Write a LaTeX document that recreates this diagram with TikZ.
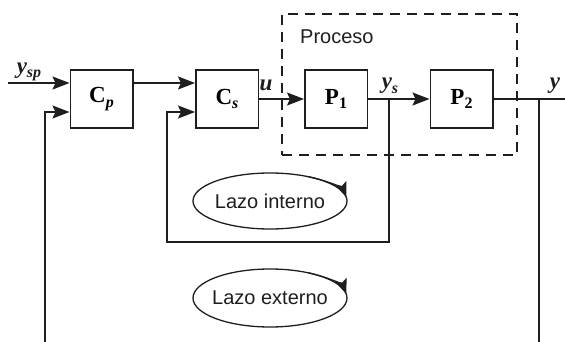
\documentclass[tikz,border=0pt]{standalone}
\usepackage{fontspec}
\setmainfont{Liberation Sans}
\newfontfamily\serifbf{Liberation Serif}
\usetikzlibrary{arrows.meta}
\newcommand\blkfont{\serifbf\bfseries\fontsize{23}{25}\selectfont}
\newcommand\sigfont{\serifbf\bfseries\itshape\fontsize{23}{25}\selectfont}
\newcommand\lazofont{\fontsize{20}{22}\selectfont}
\newcommand\mysub[1]{\raisebox{-0.4ex}{\fontsize{16}{17}\selectfont #1}}
\definecolor{ink}{HTML}{1E1E1E}
\tikzset{
  blk/.style={draw=ink, line width=1.5pt, minimum width=62.5pt, minimum height=58pt, inner sep=0pt, font=\blkfont},
  sig/.style={draw=ink, line width=1.5pt, -{Stealth[length=17pt,width=13pt,inset=3pt]}},
  wire/.style={draw=ink, line width=1.5pt},
  lbl/.style={font=\sigfont, inner sep=0pt, text=ink},
  procbox/.style={draw=ink, line width=1.3pt, dash pattern=on 10pt off 7pt, inner sep=0pt},
  loopell/.style={draw=ink, line width=1.3pt},
  looparr/.style={draw=ink, line width=1.3pt, -{Stealth[length=15pt,width=12pt,inset=3pt]}},
  lazo/.style={font=\lazofont, text=ink, inner sep=0pt}
}
\begin{document}
\begin{tikzpicture}[x=1pt, y=-1pt]
\useasboundingbox (0,0) rectangle (565,342);
% process box
\node[procbox, minimum width=235pt, minimum height=141pt] (proc) at (399.5,84.5) {};
\node[lazo, anchor=west] (proctxt) at (300,37) {Proceso};
% blocks
\node[blk] (cp) at (101.5,99) {C\mysub{\itshape p}};
\node[blk] (cs) at (227,99) {C\mysub{\itshape s}};
\node[blk] (p1) at (336,99) {P\mysub{1}};
\node[blk] (p2) at (461.5,99) {P\mysub{2}};
% coordinates
\coordinate (in) at (8,83);
\coordinate (obot) at (45,342);
\coordinate (ob) at (45,112);
\coordinate (ysb) at (389,99);
\coordinate (ib) at (389,242);
\coordinate (ic) at (167,112);
\coordinate (out) at (565,99);
\coordinate (yb) at (539,99);
\coordinate (ybot) at (539,342);
% signals
\draw[sig] (in) -- (in -| cp.west);
\draw[sig] (cp.east |- in) -- (cs.west |- in);
\draw[sig] (obot) -- (ob) -- (ob -| cp.west);
\draw[sig] (ysb) -- (ib) -| (ic) -- (ic -| cs.west);
\draw[sig] (cs.east) -- (p1.west);
\draw[sig] (p1.east) -- (p2.west);
\draw[wire] (p2.east) -- (out);
\draw[wire] (yb) -- (ybot);
% labels
\node[lbl] (ysp) at (29,72) {y\mysub{sp}};
\node[lbl] (u) at (266,85) {u};
\node[lbl] (ys) at (390,86) {y\mysub{s}};
\node[lbl] (y) at (555,86) {y};
% loops
\node[lazo] (li) at (270,201) {Lazo interno};
\draw[loopell] (li.center) ellipse [x radius=77, y radius=28];
\draw[looparr] ([shift={(-60:77 and 28)}]li.center) arc[start angle=-60, end angle=-8, x radius=77, y radius=28];
\node[lazo] (le) at (270,298) {Lazo externo};
\draw[loopell] (le.center) ellipse [x radius=77, y radius=29];
\draw[looparr] ([shift={(-60:77 and 29)}]le.center) arc[start angle=-60, end angle=-8, x radius=77, y radius=29];
\end{tikzpicture}
\end{document}
